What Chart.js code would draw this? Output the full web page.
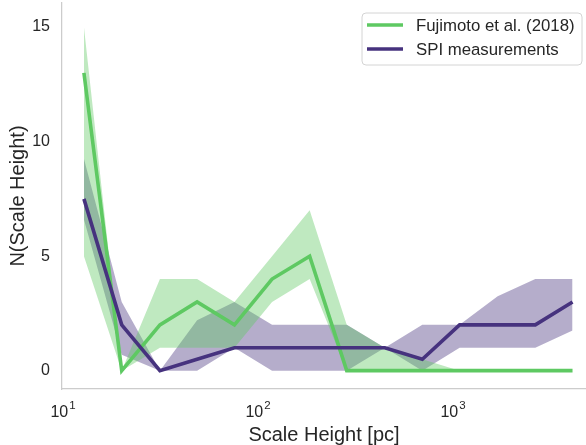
<!DOCTYPE html>
<html>
<head>
<meta charset="utf-8">
<script src="https://cdn.jsdelivr.net/npm/chart.js@4.4.1/dist/chart.umd.min.js"></script>
<style>
  html, body { margin: 0; padding: 0; background: #fff; }
  #wrap { width: 586px; height: 445px; }
</style>
</head>
<body>
<div id="wrap"><canvas id="chart" width="586" height="445"></canvas></div>
<script>
// Scale height bin positions [pc]
const scaleHeights = [12.8, 20, 31.4, 48.7, 75.7, 118, 184, 285, 447, 696, 1081, 1694, 2642, 4101];

// Fujimoto et al. (2018)
const fujiValues = [13, 0, 2, 3, 2, 4, 5, 0, 0, 0, 0, 0, 0, 0];
const fujiUpper  = [15, 0, 4, 4, 3, 5, 7, 2, 1, 0.5, 0, 0, 0, 0];
const fujiLower  = [5, 0, 1, 1, 1, 3, 4, 0, 0, 0, 0, 0, 0, 0];

// SPI measurements
const spiValues = [7.5, 2, 0, 0.5, 1, 1, 1, 1, 1, 0.5, 2, 2, 2, 3];
const spiUpper  = [9.25, 3, 0, 2.2, 3, 2, 2, 2, 1, 2, 2, 3.25, 4, 4];
const spiLower  = [6.6, 0.7, 0, 0, 1, 0, 0, 0, 1, 0, 1, 1, 1, 1.75];

const xTicks = [10, 100, 1000];
const xTickExp = ['1', '2', '3'];
const yTicks = [0, 5, 10, 15];

const GREEN = '#5ec962';
const PURPLE = '#46327e';
const TEXT = '#262626';
const FONT = '"Liberation Sans", Arial, sans-serif';

function pts(values) {
    return scaleHeights.map((x, i) => ({ x: x, y: values[i] }));
}

// x tick labels as 10 with a raised exponent
const powerTicks = {
    id: 'powerTicks',
    afterDraw(chart) {
        const ctx = chart.ctx;
        const xs = chart.scales.x;
        ctx.save();
        ctx.fillStyle = TEXT;
        ctx.textBaseline = 'alphabetic';
        ctx.textAlign = 'left';
        xTicks.forEach((v, i) => {
            const px = xs.getPixelForValue(v);
            ctx.font = '16px ' + FONT;
            const wBase = ctx.measureText('10').width;
            ctx.font = '11.5px ' + FONT;
            const wExp = ctx.measureText(xTickExp[i]).width;
            const left = px - (wBase + 1 + wExp) / 2;
            ctx.font = '16px ' + FONT;
            ctx.fillText('10', left, 417);
            ctx.font = '11.5px ' + FONT;
            ctx.fillText(xTickExp[i], left + wBase + 1, 409);
        });
        ctx.restore();
    }
};

// Legend drawn inside the plot, like the original's upper-right box
const insideLegend = {
    id: 'insideLegend',
    afterDraw(chart) {
        const ctx = chart.ctx;
        const items = [
            { label: 'Fujimoto et al. (2018)', color: GREEN },
            { label: 'SPI measurements', color: PURPLE }
        ];
        const x0 = 362, y0 = 13, w = 220, h = 52, r = 4;
        ctx.save();
        ctx.beginPath();
        ctx.moveTo(x0 + r, y0);
        ctx.arcTo(x0 + w, y0, x0 + w, y0 + h, r);
        ctx.arcTo(x0 + w, y0 + h, x0, y0 + h, r);
        ctx.arcTo(x0, y0 + h, x0, y0, r);
        ctx.arcTo(x0, y0, x0 + w, y0, r);
        ctx.closePath();
        ctx.fillStyle = 'rgba(255,255,255,0.8)';
        ctx.fill();
        ctx.strokeStyle = '#d4d4d4';
        ctx.lineWidth = 1;
        ctx.stroke();

        ctx.font = '16.8px ' + FONT;
        ctx.textBaseline = 'middle';
        ctx.fillStyle = TEXT;
        items.forEach((it, i) => {
            const y = 25 + i * 24;
            ctx.beginPath();
            ctx.moveTo(367, y);
            ctx.lineTo(403, y);
            ctx.strokeStyle = it.color;
            ctx.lineWidth = 3.5;
            ctx.stroke();
            ctx.fillText(it.label, 416, y + 1);
        });
        ctx.restore();
    }
};

const ctx = document.getElementById('chart').getContext('2d');

new Chart(ctx, {
    type: 'line',
    data: {
        datasets: [
            {
                label: 'SPI measurements',
                data: pts(spiValues),
                borderColor: PURPLE,
                borderWidth: 3.6,
                pointRadius: 0,
                fill: false,
                order: 0
            },
            {
                label: 'Fujimoto et al. (2018)',
                data: pts(fujiValues),
                borderColor: GREEN,
                borderWidth: 3.6,
                pointRadius: 0,
                fill: false,
                order: 1
            },
            {
                label: 'fuji upper',
                data: pts(fujiUpper),
                borderWidth: 0,
                borderColor: 'rgba(0,0,0,0)',
                backgroundColor: 'rgba(94,201,98,0.4)',
                pointRadius: 0,
                fill: '+1',
                order: 2
            },
            {
                label: 'fuji lower',
                data: pts(fujiLower),
                borderWidth: 0,
                borderColor: 'rgba(0,0,0,0)',
                pointRadius: 0,
                fill: false,
                order: 3
            },
            {
                label: 'spi upper',
                data: pts(spiUpper),
                borderWidth: 0,
                borderColor: 'rgba(0,0,0,0)',
                backgroundColor: 'rgba(70,50,126,0.4)',
                pointRadius: 0,
                fill: '+1',
                order: 4
            },
            {
                label: 'spi lower',
                data: pts(spiLower),
                borderWidth: 0,
                borderColor: 'rgba(0,0,0,0)',
                pointRadius: 0,
                fill: false,
                order: 5
            }
        ]
    },
    options: {
        responsive: false,
        animation: false,
        layout: { padding: { top: 3, left: 0, right: 0, bottom: 0 } },
        elements: { line: { tension: 0 } },
        plugins: {
            legend: { display: false },
            tooltip: { enabled: false },
            filler: { drawTime: 'beforeDatasetsDraw' }
        },
        scales: {
            x: {
                type: 'logarithmic',
                min: 9.88,
                max: 4808,
                afterBuildTicks: (s) => { s.ticks = xTicks.map(v => ({ value: v })); },
                afterFit: (s) => {
                    s.height = 56;
                    s.paddingLeft = 0;
                    s.paddingRight = 0;
                },
                grid: { display: false, drawTicks: false },
                border: { display: true, color: '#cccccc', width: 1.25 },
                ticks: { display: false },
                title: {
                    display: true,
                    text: 'Scale Height [pc]',
                    color: TEXT,
                    font: { family: FONT, size: 20, lineHeight: 1 },
                    padding: { top: 0, bottom: 0 }
                }
            },
            y: {
                min: -0.8,
                max: 16.05,
                afterBuildTicks: (s) => { s.ticks = yTicks.map(v => ({ value: v })); },
                afterFit: (s) => {
                    s.width = 62;
                    s.paddingTop = 0;
                    s.paddingBottom = 0;
                },
                grid: { display: false, drawTicks: false },
                border: { display: true, color: '#cccccc', width: 1.25 },
                ticks: {
                    color: TEXT,
                    padding: 12,
                    font: { family: FONT, size: 16 }
                },
                title: {
                    display: true,
                    text: 'N(Scale Height)',
                    color: TEXT,
                    font: { family: FONT, size: 20, lineHeight: 1 },
                    padding: { top: 8, bottom: 0 }
                }
            }
        }
    },
    plugins: [powerTicks, insideLegend]
});
</script>
</body>
</html>
